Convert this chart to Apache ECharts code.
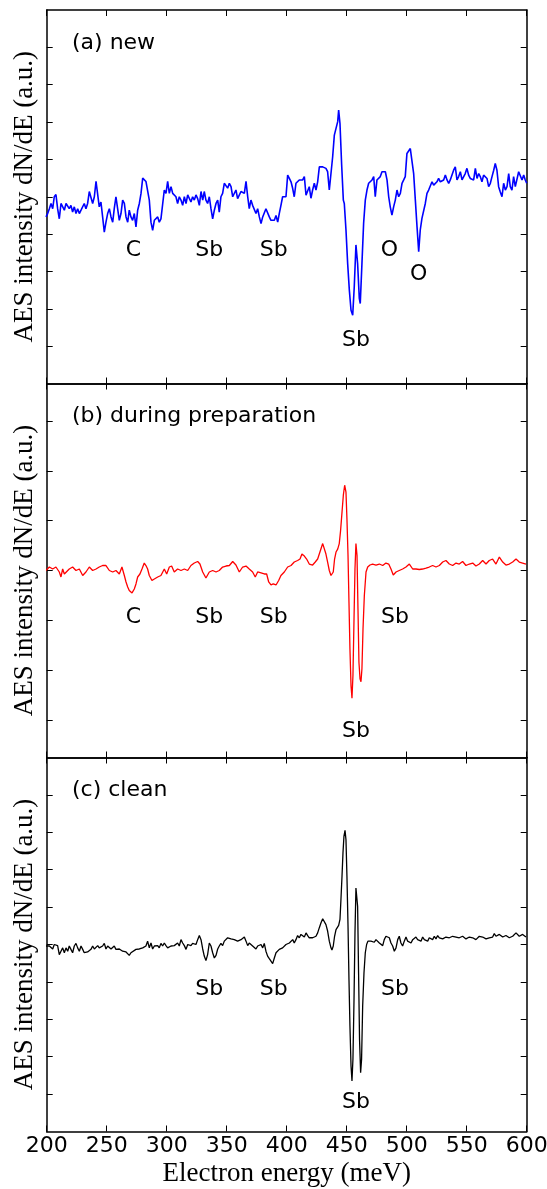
<!DOCTYPE html>
<html>
<head>
<meta charset="utf-8">
<script src="https://cdn.jsdelivr.net/npm/echarts@6/dist/echarts.min.js"></script>
<style>
html,body{margin:0;padding:0;background:#ffffff;}
#chart{width:547px;height:1189px;}
</style>
</head>
<body>
<div id="chart"></div>
<script>
// ---------------- data ----------------
const panelTitles = ['(a) new', '(b) during preparation', '(c) clean'];
const yAxisTitle = 'AES intensity dN/dE (a.u.)';
const xAxisTitle = 'Electron energy (meV)';
const energyRange = [200, 600];
const energyTickStep = 50;
const intensityRanges = [[-5, 5], [-3.75, 3.75], [-5, 5]];
const intensityTicks = [
  [-4, -3, -2, -1, 0, 1, 2, 3, 4],
  [-3, -2, -1, 0, 1, 2, 3],
  [-4, -3, -2, -1, 0, 1, 2, 3, 4]
];

// (a) new  [energy, dN/dE]
const spectrumNew = [
[199.4,-0.54],[200.8,-0.45],[202.2,-0.32],[203.6,-0.18],[205.0,-0.32],[206.3,0.00],[207.7,0.06],[209.1,-0.32],[210.5,-0.59],[211.9,-0.18],
[213.3,-0.18],[214.7,-0.36],[216.1,-0.18],[217.5,-0.18],[218.8,-0.32],[220.2,-0.23],[221.6,-0.41],[223.0,-0.27],[224.4,-0.45],[225.8,-0.32],
[227.2,-0.45],[228.6,-0.36],[230.0,-0.41],[231.3,-0.18],[232.7,-0.32],[234.1,-0.18],[235.5,0.14],[236.9,0.18],[238.3,-0.18],[239.7,0.00],
[241.1,0.41],[242.5,0.36],[243.8,-0.27],[245.2,-0.14],[246.6,-0.54],[248.0,-0.95],[249.4,-0.68],[250.8,-0.45],[252.2,-0.32],[253.6,-0.54],
[255.0,-0.68],[256.3,-0.32],[257.7,0.00],[259.1,-0.32],[260.5,-0.63],[261.9,-0.45],[263.3,-0.09],[264.7,-0.18],[266.1,-0.54],[267.5,-0.68],
[268.8,-0.36],[270.2,-0.54],[271.6,-0.63],[273.0,-0.45],[274.4,-0.81],[275.8,-0.36],[277.2,-0.18],[278.6,0.09],[280.0,0.50],[281.3,0.50],
[282.7,0.41],[284.1,0.41],[285.5,-0.09],[286.9,-0.68],[288.3,-0.90],[289.7,-0.63],[291.1,-0.68],[292.5,-0.54],[293.8,-0.68],[295.2,-0.59],
[296.6,-0.59],[298.0,0.18],[299.4,0.09],[300.8,0.41],[302.2,0.09],[303.6,0.27],[305.0,0.09],[306.3,0.14],[307.7,0.00],[309.1,-0.18],
[310.5,0.00],[311.9,-0.09],[313.3,-0.23],[314.7,0.00],[316.1,-0.18],[317.5,0.05],[318.8,0.09],[320.2,-0.14],[321.6,0.00],[323.0,-0.09],
[324.4,0.05],[325.8,-0.05],[327.2,-0.23],[328.6,0.14],[330.0,-0.09],[331.3,0.14],[332.7,-0.09],[334.1,-0.18],[335.5,0.00],[336.9,-0.32],
[338.3,-0.59],[339.7,-0.36],[341.1,-0.18],[342.5,-0.09],[343.8,-0.41],[345.2,0.00],[346.6,0.09],[348.0,0.36],[349.4,0.41],[350.8,0.23],
[352.2,0.36],[353.6,0.27],[355.0,0.00],[356.3,0.00],[357.7,0.18],[359.1,-0.05],[360.5,-0.09],[361.9,0.14],[363.3,0.14],[364.7,0.09],
[366.1,0.41],[367.5,0.00],[368.8,-0.32],[370.2,-0.09],[371.6,-0.23],[373.0,-0.23],[374.4,-0.45],[375.8,-0.32],[377.2,-0.54],[378.6,-0.72],
[380.0,-0.54],[381.3,-0.54],[382.7,-0.32],[384.1,-0.36],[385.5,-0.54],[386.9,-0.63],[388.3,-0.68],[389.7,-0.63],[391.1,-0.50],[392.5,-0.68],
[393.8,-0.45],[395.2,-0.23],[396.6,0.00],[398.0,-0.05],[399.4,0.00],[400.8,0.58],[402.2,0.49],[403.6,0.40],[405.0,0.22],[406.3,0.00],
[407.7,0.36],[409.1,0.40],[410.5,0.45],[411.9,0.49],[413.3,0.45],[414.7,0.54],[416.1,0.04],[417.5,0.00],[418.8,0.27],[420.2,-0.04],
[421.6,0.18],[423.0,0.36],[424.4,0.18],[425.8,0.40],[427.2,0.80],[428.6,0.85],[430.0,0.80],[431.3,0.85],[432.7,0.76],[434.1,0.67],
[435.5,0.18],[436.9,0.22],[438.3,1.07],[439.7,1.65],[441.1,1.70],[442.5,2.01],[443.3,2.32],[444.4,1.96],[445.8,0.85],[447.2,-0.09],
[448.0,-0.18],[449.4,-0.89],[450.8,-1.79],[452.2,-2.50],[453.6,-3.04],[455.0,-3.17],[456.3,-2.41],[457.7,-1.29],[459.1,-1.79],[460.5,-2.72],
[461.3,-2.86],[462.7,-1.79],[464.1,-0.71],[465.5,-0.09],[466.9,0.18],[468.3,0.36],[469.7,0.31],[471.1,0.45],[472.5,0.54],[473.8,0.00],
[475.2,0.45],[476.6,0.40],[478.0,0.54],[479.4,0.67],[480.8,0.71],[482.2,0.67],[483.6,0.45],[485.0,0.00],[486.3,-0.27],[487.7,-0.49],
[489.1,-0.27],[490.5,-0.09],[491.9,0.18],[493.3,0.00],[494.7,0.09],[496.1,0.36],[497.5,0.45],[498.8,0.54],[500.2,1.16],[501.6,1.21],
[503.0,1.29],[504.4,1.25],[505.8,0.62],[507.2,-0.09],[508.6,-0.80],[510.0,-1.47],[511.3,-0.89],[512.7,-0.58],[514.1,-0.54],[515.5,-0.18],
[516.9,0.09],[518.3,0.18],[519.7,0.22],[521.1,0.40],[522.5,0.31],[523.8,0.27],[525.2,0.40],[526.6,0.49],[528.0,0.40],[529.4,0.36],
[530.8,0.45],[532.2,0.58],[533.6,0.45],[535.0,0.36],[536.3,0.45],[537.7,0.49],[539.1,0.71],[540.5,0.80],[541.9,0.45],[543.3,0.54],
[544.7,0.67],[546.1,0.45],[547.5,0.49],[548.8,0.62],[550.2,0.76],[551.6,0.58],[553.0,0.49],[554.4,0.54],[555.8,0.45],[557.2,0.76],
[558.6,0.49],[560.0,0.62],[561.3,0.54],[562.7,0.40],[564.1,0.58],[565.5,0.54],[566.9,0.49],[568.3,0.27],[569.7,0.36],[571.1,0.54],
[572.5,0.71],[573.8,0.89],[575.2,0.71],[576.6,0.27],[578.0,0.13],[579.4,0.00],[580.8,0.36],[582.2,0.18],[583.6,0.27],[585.0,0.62],
[586.3,0.27],[587.7,0.18],[589.1,0.54],[590.5,0.27],[591.9,0.22],[593.3,0.67],[594.7,0.71],[596.1,0.45],[597.5,0.58],[598.8,0.45],
[600.0,0.36]
];

// (b) during preparation
const spectrumPrep = [
[199.4,0.00],[202.2,0.07],[205.0,0.03],[207.7,0.07],[210.5,-0.03],[211.9,-0.13],[213.3,0.03],[214.7,-0.07],[216.1,-0.10],[218.8,0.03],
[221.6,0.07],[224.4,0.00],[227.2,0.03],[230.0,-0.10],[232.7,-0.03],[235.5,0.07],[238.3,0.00],[241.1,0.03],[243.8,0.07],[246.6,0.10],
[249.4,0.10],[252.2,0.00],[255.0,-0.03],[257.7,0.00],[260.5,-0.07],[262.7,0.07],[264.7,-0.10],[266.1,-0.23],[267.5,-0.33],[268.8,-0.40],
[271.1,-0.45],[273.0,-0.37],[274.4,-0.27],[275.8,-0.13],[277.7,-0.07],[279.4,0.03],[281.3,0.15],[282.7,0.10],[284.1,0.03],[285.5,-0.10],
[287.7,-0.20],[289.7,-0.17],[292.5,-0.13],[295.2,-0.10],[298.0,0.03],[300.0,-0.07],[302.2,0.07],[304.1,0.09],[306.3,-0.03],[309.1,0.03],
[311.9,0.00],[314.7,0.03],[317.5,0.00],[320.2,0.10],[323.0,0.15],[325.8,0.18],[327.7,0.13],[330.0,-0.03],[332.7,-0.15],[335.5,-0.03],
[338.3,0.00],[341.1,-0.03],[343.8,0.00],[346.6,0.07],[349.4,0.09],[352.2,0.10],[355.0,0.18],[357.7,0.11],[360.5,-0.03],[363.3,0.07],
[366.1,0.09],[368.8,0.03],[371.6,-0.03],[373.8,-0.13],[375.8,-0.03],[378.6,-0.05],[381.3,-0.07],[383.3,-0.07],[385.0,-0.23],[386.9,-0.29],
[388.8,-0.27],[391.1,-0.29],[393.3,-0.20],[395.2,-0.10],[398.0,-0.03],[400.8,0.07],[403.6,0.10],[406.3,0.17],[409.1,0.20],[411.1,0.23],
[412.7,0.33],[414.7,0.29],[416.6,0.23],[418.8,0.13],[421.6,0.11],[423.8,0.17],[425.8,0.23],[427.7,0.37],[430.0,0.54],[431.3,0.50],
[432.7,0.33],[434.1,0.17],[435.5,0.00],[436.9,-0.10],[437.7,-0.13],[438.8,-0.03],[439.9,0.23],[441.1,0.37],[442.5,0.43],[443.8,0.54],
[444.9,0.80],[446.1,1.17],[447.2,1.51],[448.3,1.71],[449.4,1.57],[450.2,1.04],[451.1,0.30],[451.9,-0.64],[452.7,-1.57],[453.6,-2.31],
[454.4,-2.56],[455.2,-2.11],[456.1,-0.97],[456.9,0.03],[457.7,0.54],[458.6,0.30],[459.4,-0.77],[460.2,-1.84],[461.1,-2.17],[461.9,-2.23],
[462.7,-1.97],[463.6,-1.17],[464.7,-0.50],[466.1,-0.03],[467.5,0.07],[469.4,0.11],[471.6,0.13],[474.4,0.11],[477.2,0.13],[480.0,0.10],
[482.7,0.15],[485.0,0.13],[486.9,0.03],[488.8,-0.09],[491.1,-0.03],[493.8,0.00],[496.6,0.03],[499.4,0.07],[502.2,0.13],[505.0,0.03],
[507.7,0.03],[510.5,0.02],[513.3,0.03],[516.1,0.05],[518.8,0.07],[521.6,0.10],[524.4,0.07],[527.2,0.10],[530.0,0.17],[532.7,0.20],
[535.5,0.13],[538.3,0.10],[541.1,0.15],[543.8,0.13],[546.6,0.18],[549.4,0.10],[552.2,0.13],[555.0,0.15],[557.7,0.09],[560.5,0.13],
[563.3,0.20],[566.1,0.13],[568.8,0.20],[571.6,0.23],[574.4,0.13],[577.2,0.27],[580.0,0.17],[582.7,0.11],[585.5,0.13],[588.3,0.17],
[591.1,0.23],[593.8,0.17],[596.6,0.15],[599.4,0.13]
];

// (c) clean
const spectrumClean = [
[199.4,-0.04],[200.8,0.00],[202.2,-0.04],[203.6,0.00],[205.0,-0.12],[206.3,0.00],[207.7,-0.04],[209.1,-0.03],[210.5,-0.27],[211.9,-0.18],
[213.3,-0.09],[214.7,-0.22],[216.1,-0.09],[217.5,-0.18],[218.8,-0.04],[220.2,-0.13],[221.6,-0.22],[223.0,-0.04],[224.4,0.03],[225.8,-0.09],
[227.2,-0.18],[228.6,-0.04],[230.0,-0.13],[231.3,-0.22],[232.7,-0.24],[234.1,-0.20],[235.5,-0.18],[236.9,-0.13],[238.3,-0.04],[239.7,-0.12],
[241.1,-0.09],[242.5,-0.03],[243.8,-0.09],[245.2,-0.09],[246.6,-0.04],[248.0,0.03],[249.4,-0.12],[250.8,-0.04],[252.2,-0.04],[253.6,-0.12],
[255.0,-0.09],[256.3,-0.04],[257.7,-0.13],[259.1,-0.18],[260.5,-0.12],[261.9,-0.09],[263.3,-0.18],[264.7,-0.13],[266.1,-0.20],[267.5,-0.15],
[268.8,-0.29],[270.2,-0.22],[271.6,-0.18],[274.4,-0.13],[277.2,-0.12],[280.0,-0.09],[282.7,-0.04],[284.1,0.09],[285.5,-0.09],[286.9,0.04],
[288.3,-0.12],[289.7,-0.04],[291.1,-0.09],[292.5,-0.03],[293.8,-0.09],[295.2,0.03],[296.6,-0.04],[298.0,0.04],[299.4,-0.03],[300.8,-0.09],
[302.2,-0.12],[303.6,-0.04],[305.0,-0.09],[306.3,-0.03],[307.7,-0.04],[309.1,0.04],[310.5,-0.04],[311.9,0.13],[313.3,0.04],[314.7,-0.03],
[316.1,-0.13],[317.5,0.00],[318.8,0.04],[320.2,-0.03],[321.6,0.03],[323.0,0.06],[324.4,0.00],[325.8,0.13],[327.2,0.24],[328.6,0.13],
[330.0,-0.12],[331.3,-0.31],[332.7,-0.43],[334.1,-0.27],[335.5,0.04],[336.9,-0.04],[338.3,-0.22],[339.7,-0.36],[341.1,-0.29],[342.5,-0.12],
[343.8,-0.04],[345.2,0.03],[346.6,-0.03],[348.0,0.09],[349.4,0.13],[350.8,0.18],[352.2,0.13],[353.6,0.15],[355.0,0.18],[356.3,0.13],
[357.7,0.15],[359.1,0.09],[360.5,0.04],[361.9,0.13],[363.3,0.18],[364.7,0.20],[366.1,0.09],[367.5,-0.03],[368.8,0.04],[370.2,0.00],
[371.6,-0.04],[373.0,-0.09],[374.4,-0.12],[375.8,-0.04],[377.2,-0.09],[378.6,0.00],[380.0,-0.09],[381.3,0.03],[382.7,-0.18],[384.1,-0.31],
[385.5,-0.38],[386.9,-0.40],[388.3,-0.51],[389.7,-0.36],[391.1,-0.22],[392.5,-0.22],[393.8,-0.13],[395.2,-0.18],[396.6,-0.09],[398.0,-0.09],
[399.4,0.00],[400.8,-0.04],[402.2,0.04],[403.6,0.06],[405.0,0.13],[406.3,0.04],[407.7,0.13],[409.1,0.24],[410.5,0.18],[411.9,0.27],
[413.3,0.22],[414.7,0.20],[416.1,0.31],[417.5,0.24],[418.8,0.18],[420.2,0.13],[421.6,0.18],[423.0,0.13],[424.4,0.22],[425.8,0.31],
[427.2,0.45],[428.6,0.58],[430.0,0.69],[431.3,0.67],[432.7,0.53],[434.1,0.36],[435.5,0.09],[436.9,-0.09],[437.7,-0.15],[438.8,-0.04],
[439.9,0.22],[441.1,0.40],[442.5,0.45],[443.3,0.51],[444.4,0.67],[445.2,1.20],[446.1,1.83],[446.9,2.45],[447.7,2.89],[448.6,3.05],
[449.4,2.80],[450.2,1.83],[451.1,0.49],[451.9,-0.94],[452.7,-2.18],[453.6,-3.25],[454.4,-3.65],[455.2,-3.07],[456.1,-1.47],[456.9,0.31],
[457.7,1.51],[458.3,1.54],[459.1,1.02],[459.9,-0.76],[460.7,-2.54],[461.6,-3.43],[462.4,-3.07],[463.3,-1.65],[464.4,-0.76],[465.5,-0.22],
[466.6,0.00],[467.7,0.09],[468.8,0.04],[470.2,0.09],[471.6,0.12],[473.0,0.06],[474.4,0.13],[475.8,0.15],[477.2,0.04],[478.6,0.09],
[480.0,-0.03],[481.3,0.13],[482.7,0.22],[484.1,0.27],[485.5,0.18],[486.9,0.04],[488.3,-0.04],[489.7,-0.18],[491.1,-0.09],[492.5,0.13],
[493.8,0.22],[495.2,0.04],[496.6,-0.04],[498.0,0.09],[499.4,0.20],[500.8,0.09],[502.2,0.13],[503.6,0.04],[505.0,0.13],[506.3,0.09],
[507.7,0.20],[509.1,0.13],[510.5,0.15],[511.9,0.09],[513.3,0.20],[514.7,0.13],[516.1,0.13],[517.5,0.09],[518.8,0.18],[521.6,0.13],
[523.0,0.22],[524.4,0.15],[525.8,0.24],[527.2,0.18],[530.0,0.15],[532.7,0.20],[535.5,0.18],[538.3,0.22],[541.1,0.20],[543.8,0.18],
[546.6,0.22],[549.4,0.15],[552.2,0.20],[555.0,0.18],[557.7,0.13],[560.5,0.22],[563.3,0.20],[566.1,0.15],[568.8,0.18],[571.6,0.20],
[573.0,0.29],[574.4,0.22],[577.2,0.27],[580.0,0.20],[582.7,0.24],[585.5,0.18],[588.3,0.22],[591.1,0.31],[593.8,0.22],[596.6,0.27],
[599.4,0.20]
];

// peak annotations: [text, energy, intensity]
const peakLabelsNew = [['C',272.3,-1.43],['Sb',335.5,-1.43],['Sb',389.2,-1.43],['O',485.5,-1.43],['O',510.0,-2.08],['Sb',457.8,-3.84]];
const peakLabelsPrep = [['C',272.3,-0.93],['Sb',335.5,-0.93],['Sb',389.2,-0.93],['Sb',490.3,-0.93],['Sb',457.8,-3.23]];
const peakLabelsClean = [['Sb',335.5,-1.20],['Sb',389.2,-1.20],['Sb',490.3,-1.20],['Sb',457.8,-4.23]];

const spectra = [spectrumNew, spectrumPrep, spectrumClean];
const peakLabels = [peakLabelsNew, peakLabelsPrep, peakLabelsClean];
const lineColors = ['#0000ff', '#ff0000', '#000000'];

// ---------------- chart ----------------
const SANS = '"DejaVu Sans", sans-serif';
const SERIF = '"Liberation Serif", "Times New Roman", serif';
const gridTops = [10, 383.5, 757.5];
const gridHeights = [373.5, 374, 374];

const grids = [], xAxes = [], yAxes = [], series = [], graphics = [];
for (let i = 0; i < 3; i++) {
  grids.push({left: 46.7, right: 20.3, top: gridTops[i], height: gridHeights[i],
              containLabel: false, outerBoundsMode: 'none'});
  ['bottom', 'top'].forEach(pos => {
    const labelled = (i === 2 && pos === 'bottom');
    xAxes.push({
      type: 'value', gridIndex: i, position: pos,
      min: energyRange[0], max: energyRange[1], interval: energyTickStep,
      axisLine: {show: true, onZero: false, lineStyle: {color: '#000', width: 1.5}},
      axisTick: {show: true, inside: true, length: 6, lineStyle: {color: '#000', width: 1}},
      axisLabel: {show: labelled, margin: 4, color: '#000', fontFamily: SANS, fontSize: 22},
      splitLine: {show: false},
      name: labelled ? xAxisTitle : '',
      nameLocation: 'middle', nameGap: 29,
      nameTextStyle: {color: '#000', fontFamily: SERIF, fontSize: 27}
    });
  });
  ['left', 'right'].forEach(pos => {
    yAxes.push({
      type: 'value', gridIndex: i, position: pos,
      min: intensityRanges[i][0], max: intensityRanges[i][1],
      axisLine: {show: true, onZero: false, lineStyle: {color: '#000', width: 1.5}},
      axisTick: {show: true, inside: true, length: 6, customValues: intensityTicks[i], lineStyle: {color: '#000', width: 1}},
      axisLabel: {show: false, customValues: intensityTicks[i]},
      splitLine: {show: false},
      name: pos === 'left' ? yAxisTitle : '',
      nameLocation: 'middle', nameRotate: 90, nameGap: 8,
      nameTextStyle: {color: '#000', fontFamily: SERIF, fontSize: 27}
    });
  });
  series.push({
    type: 'line', xAxisIndex: 2 * i, yAxisIndex: 2 * i,
    data: spectra[i], showSymbol: false, symbol: 'none', smooth: false,
    lineStyle: {color: lineColors[i], width: i === 0 ? 1.6 : 1.3},
    silent: true, animation: false, z: 3
  });
  series.push({
    type: 'scatter', xAxisIndex: 2 * i, yAxisIndex: 2 * i,
    data: peakLabels[i].map(p => ({name: p[0], value: [p[1], p[2]]})),
    symbol: 'circle', symbolSize: 0, itemStyle: {color: '#000000', opacity: 1},
    label: {show: true, position: 'inside', formatter: '{b}', color: '#000000', opacity: 1,
            fontFamily: SANS, fontSize: 22, textBorderWidth: 0},
    silent: true, animation: false, z: 4
  });
  graphics.push({
    type: 'text', left: 72, top: gridTops[i] + 22,
    style: {text: panelTitles[i], fill: '#000', font: '22px "DejaVu Sans", sans-serif'},
    z: 10
  });
}

const chart = echarts.init(document.getElementById('chart'), null, {renderer: 'canvas'});
chart.setOption({
  backgroundColor: '#ffffff',
  animation: false,
  grid: grids, xAxis: xAxes, yAxis: yAxes, series: series, graphic: graphics
});
</script>
</body>
</html>
